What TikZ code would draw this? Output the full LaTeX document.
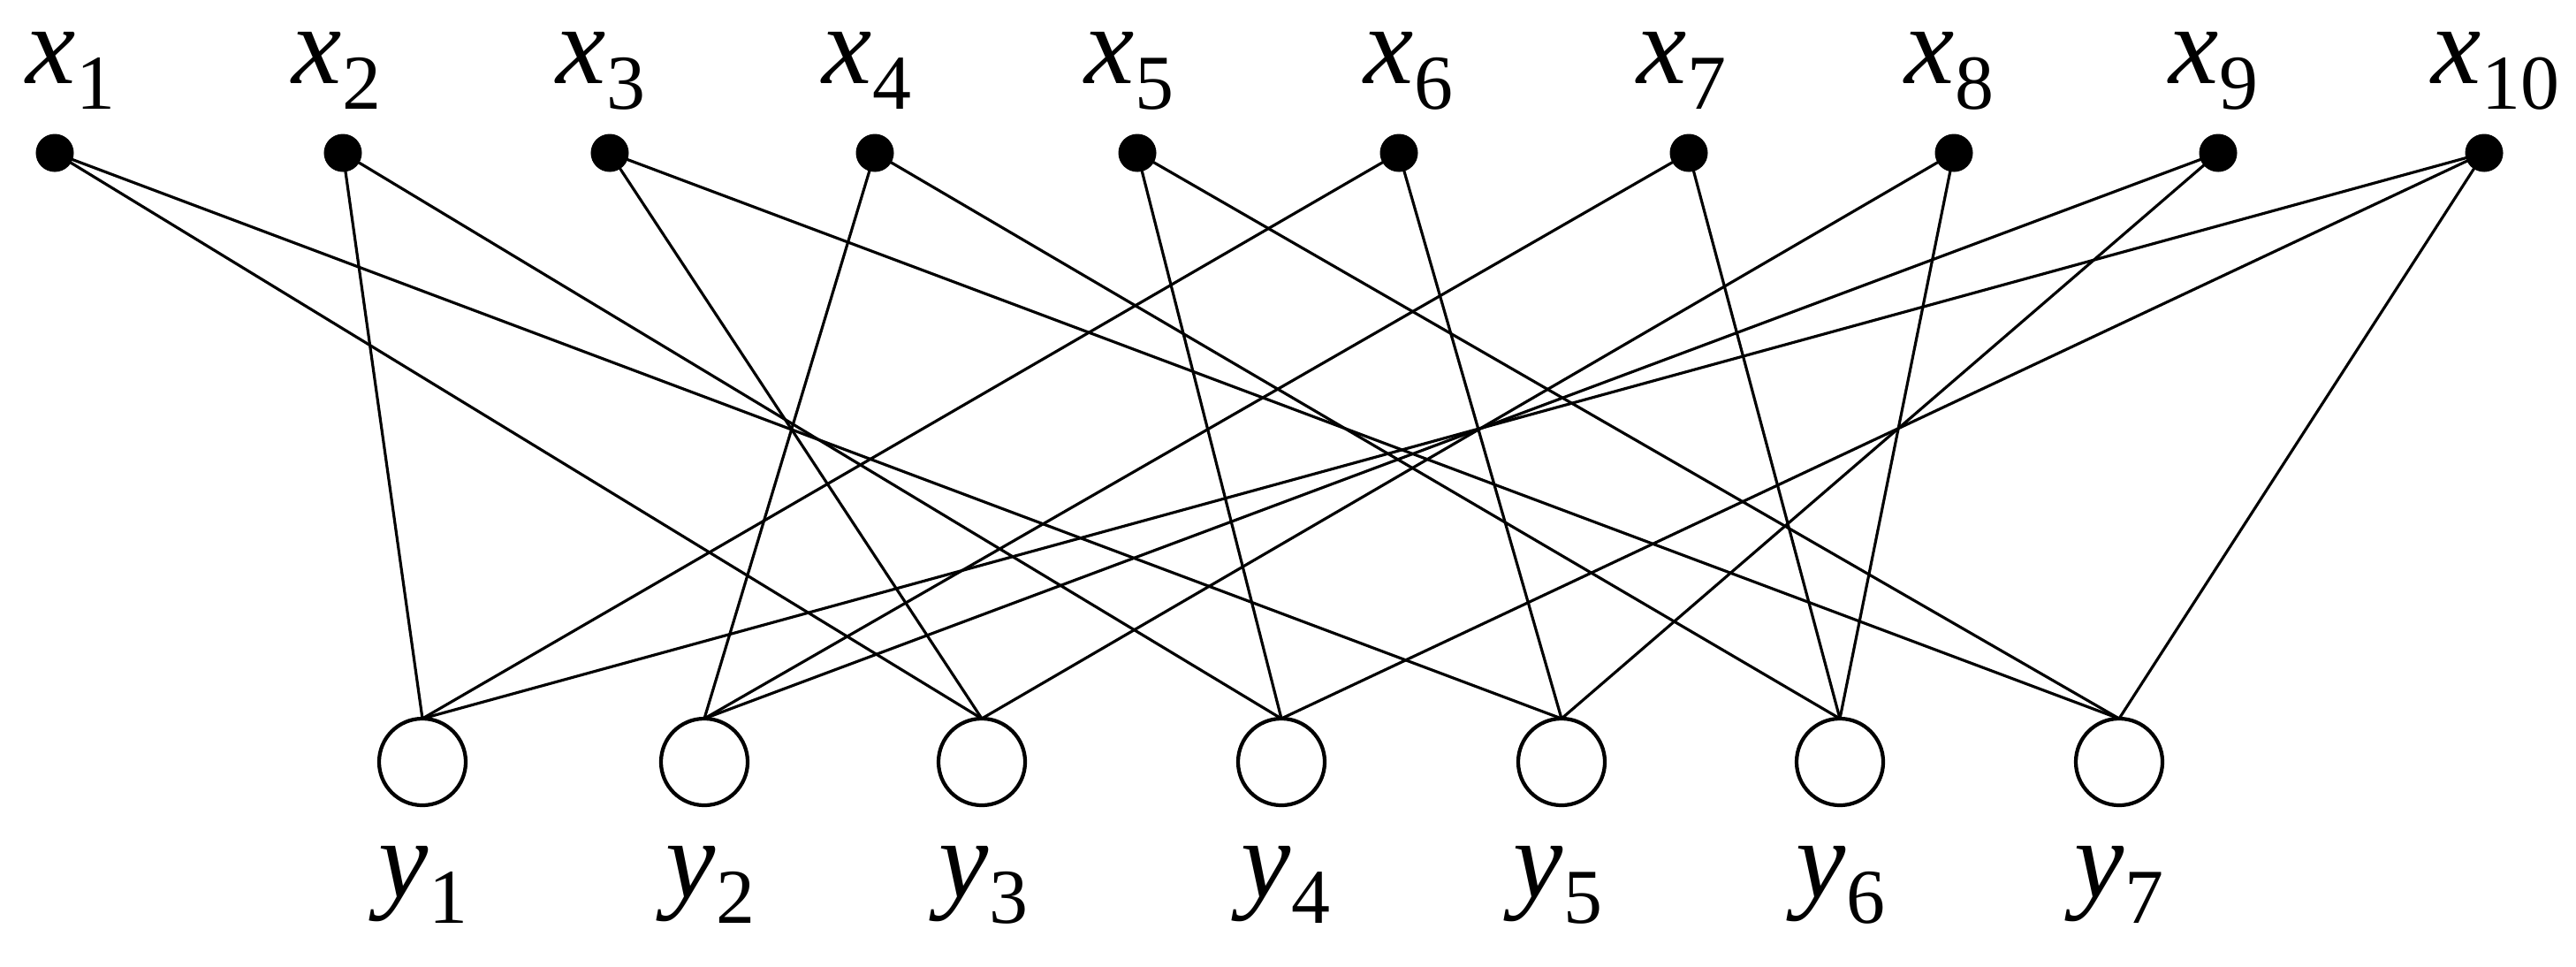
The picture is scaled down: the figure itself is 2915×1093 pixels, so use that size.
\documentclass[tikz,border=0pt]{standalone}
\usepackage{fontspec}
\setmainfont{Liberation Serif}
\newcommand\mylab[2]{\textit{#1}\raisebox{-8.5pt}{\fontsize{25}{25}\selectfont #2}}
\begin{document}
\begin{tikzpicture}[x=0.01cm,y=-0.01cm,
 dotnode/.style={circle,fill=black,inner sep=0pt,minimum size=0.43cm},
 ynode/.style={circle,draw,line width=1.2pt,inner sep=0pt,minimum size=0.98cm,outer sep=0pt},
 lbl/.style={anchor=base,inner sep=0pt,font=\fontsize{36}{36}\selectfont},
 edgeline/.style={line width=0.9pt}]
\useasboundingbox (0,0) rectangle (2915,1093);
% top vertices
\foreach \i/\px/\lx in {1/62/80,2/388/381,3/690/680,4/990/981,5/1287/1278,6/1583/1594,7/1911/1903,8/2211/2206,9/2510/2505,10/2811/2824}{
  \node[dotnode] (x\i) at (\px,173) {};
  \node[lbl] (lx\i) at (\lx,94) {\mylab{x}{\i}};
}
% bottom vertices
\foreach \i/\px/\lx in {1/478/479,2/797/804,3/1111/1113,4/1450/1455,5/1767/1763,6/2082/2083,7/2398/2398}{
  \node[ynode] (y\i) at (\px,862) {};
  \node[lbl] (ly\i) at (\lx,1015) {\mylab{y}{\i}};
}
% edges
\foreach \a/\b in {1/3,1/5,2/1,2/4,3/3,3/7,4/2,4/6,5/4,5/7,6/1,6/5,7/2,7/6,8/3,8/6,9/2,9/5,10/1,10/4,10/7}{
  \draw[edgeline] (x\a.center) -- (y\b.north);
}
\end{tikzpicture}
\end{document}
